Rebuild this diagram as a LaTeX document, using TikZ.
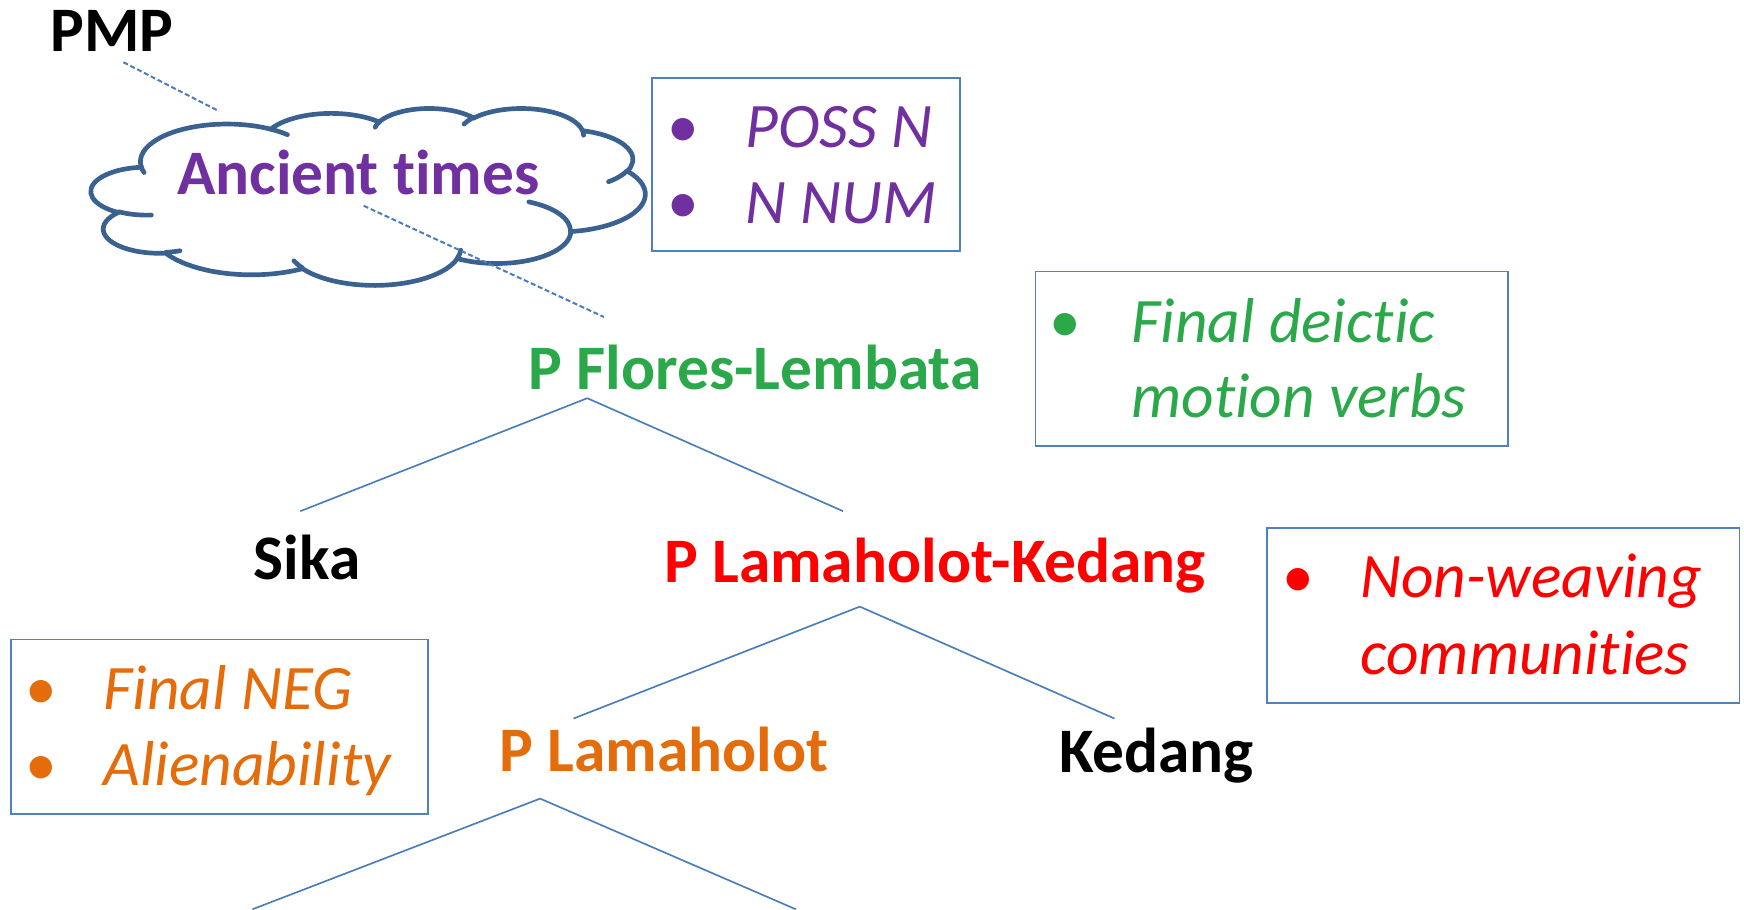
\documentclass[tikz,border=0pt]{standalone}
\usepackage{fontspec}
\setmainfont{Carlito}[Ligatures=NoCommon]

\definecolor{lineblue}{HTML}{4A7EBB}
\definecolor{boxblue}{HTML}{4F81BD}
\definecolor{cloudblue}{HTML}{3B6190}
\definecolor{purp}{HTML}{7030A0}
\definecolor{grn}{RGB}{43,168,74}
\definecolor{orng}{HTML}{E46C0A}
\newcommand{\bigtxt}{\fontsize{57}{68}\selectfont}

\tikzset{
  lang/.style={anchor=base west,inner sep=0,font=\bigtxt\bfseries},
  feat/.style={anchor=base west,inner sep=0,font=\bigtxt\itshape},
  dot/.style={anchor=base,inner sep=0,font=\bigtxt},
  branch/.style={lineblue,line width=1.5pt},
  featbox/.style={boxblue,line width=1.6pt},
  oldlink/.style={lineblue,line width=1.8pt,dash pattern=on 4.5pt off 2.4pt},
  cloudline/.style={cloudblue,line width=4.2pt,line cap=round},
}

\begin{document}
\begin{tikzpicture}[x=1pt,y=-1pt]
  \useasboundingbox (0,0) rectangle (1568,817.5);
  % cloud for the oldest stage, drawn lobe by lobe
  \begin{scope}[shift={(82,97)},x=1.1528pt,y=-0.3681pt]
    \coordinate (cstart) at (39,143.7);
    \coordinate (cp) at (cstart);
    \foreach \wr/\hr/\st/\sw in {67.53/91.90/-190.4875/123.7805, 53.33/72.67/-144.1024/89.9452,
        43.65/59.45/-145.8079/99.7230, 48.57/65.95/-130.9861/117.2417, 53.33/72.73/-78.7089/109.0269,
        67.75/92.20/-46.2673/130.2690, 57.85/78.67/0.6250/114.0333, 67.52/92.15/22.4516/115.1726,
        77.20/105.43/66.2426/75.7110, 43.60/59.18/-274.9421/146.7356, 43.45/59.45/-246.8285/152.5189}{
      \pgfmathsetmacro\ta{atan2(\wr*sin(\st),\hr*cos(\st))}
      \pgfmathsetmacro\tb{atan2(\wr*sin(\st+\sw),\hr*cos(\st+\sw))}
      \pgfmathsetmacro\tb{\tb+360*(\tb<\ta)}
      \draw[cloudline] (cp) arc[start angle=\ta,end angle=\tb,x radius=\wr,y radius=\hr] coordinate (cp);
    }
    \draw[cloudline] (cp) -- (cstart);
    % little hooks inside the cloud
    \foreach \hx/\hy/\wr/\hr/\st/\sw in {46.93/261.77/43.45/59.45/86.742/26.4295, 69.28/348.99/43.60/59.18/73.6105/11.4475,
        164.78/390.90/67.52/92.15/137.6242/14.0811, 288.27/347.51/67.52/92.15/6.4533/15.9984,
        341.29/229.54/57.85/78.67/-70.2924/70.9174, 417.98/153.54/53.33/72.73/30.3180/27.7515,
        383.24/54.26/48.57/65.95/-13.7443/14.8589, 290.78/39.52/48.57/65.95/-149.1815/18.1954,
        221.41/47.20/43.65/59.45/-163.4943/17.6864, 140.00/51.92/67.53/91.90/-66.7070/12.3194,
        41.27/157.89/67.53/91.90/157.6544/11.8582}{
      \pgfmathsetmacro\ta{atan2(\wr*sin(\st),\hr*cos(\st))}
      \pgfmathsetmacro\tb{atan2(\wr*sin(\st+\sw),\hr*cos(\st+\sw))}
      \pgfmathsetmacro\tb{\tb+360*(\tb<\ta)}
      \draw[cloudline] (\hx,\hy) arc[start angle=\ta,end angle=\tb,x radius=\wr,y radius=\hr];
    }
  \end{scope}
  \node[lang,purp] (ancient) at (159,175) {Ancient times};
  \node[lang] (pmp) at (45,46.5) {PMP};
  \coordinate (pmpout) at (111,56);
  \coordinate (cloudin) at (197,100);
  \coordinate (cloudout) at (327,185);
  \coordinate (flin) at (543,285);
  \draw[oldlink] (pmpout) -- (cloudin);
  \draw[oldlink] (cloudout) -- (flin);
  \draw[featbox] (586,70) rectangle (863,226);
  \node[dot,purp] (b1) at (614,133) {•};
  \node[feat,purp] (possn) at (670,133) {POSS N};
  \node[dot,purp] (b2) at (614,201) {•};
  \node[feat,purp] (nnum) at (670,201) {N NUM};
  % Flores-Lembata
  \node[lang,grn] (fl) at (475,350) {P Flores-Lembata};
  \draw[featbox] (931,244) rectangle (1356,401);
  \node[dot,grn] (b3) at (958,307.5) {•};
  \node[feat,grn] (fdm1) at (1017,307.5) {Final deictic};
  \node[feat,grn] (fdm2) at (1017,375) {motion verbs};
  \coordinate (flapex) at (528,358);
  \coordinate (sikain) at (270,459.6);
  \coordinate (plkin) at (758,459.6);
  \draw[branch] (flapex) -- (sikain);
  \draw[branch] (flapex) -- (plkin);
  \node[lang] (sika) at (228,520.7) {Sika};
  % Lamaholot-Kedang
  \node[lang,red] (plk) at (597,524) {P Lamaholot-Kedang};
  \draw[featbox] (1139,475) rectangle (1564,632);
  \node[dot,red] (b4) at (1167,537) {•};
  \node[feat,red] (nw1) at (1223,537) {Non-weaving};
  \node[feat,red] (nw2) at (1223,606) {communities};
  \coordinate (plkapex) at (773,545.4);
  \coordinate (plin) at (515.6,646);
  \coordinate (kedin) at (1002,646);
  \draw[branch] (plkapex) -- (plin);
  \draw[branch] (plkapex) -- (kedin);
  \node[lang] (kedang) at (952,694.3) {Kedang};
  % Lamaholot
  \node[lang,orng] (pl) at (449,693.6) {P Lamaholot};
  \draw[featbox] (10,575) rectangle (385,732);
  \node[dot,orng] (b5) at (37,637.5) {•};
  \node[feat,orng] (neg) at (93,637.5) {Final NEG};
  \node[dot,orng] (b6) at (37,706.5) {•};
  \node[feat,orng] (alien) at (93,706.5) {Alienability};
  \coordinate (plapex) at (485.6,718);
  \coordinate (lowleft) at (227,817.5);
  \coordinate (lowright) at (715.5,817.5);
  \draw[branch] (plapex) -- (lowleft);
  \draw[branch] (plapex) -- (lowright);
\end{tikzpicture}
\end{document}
